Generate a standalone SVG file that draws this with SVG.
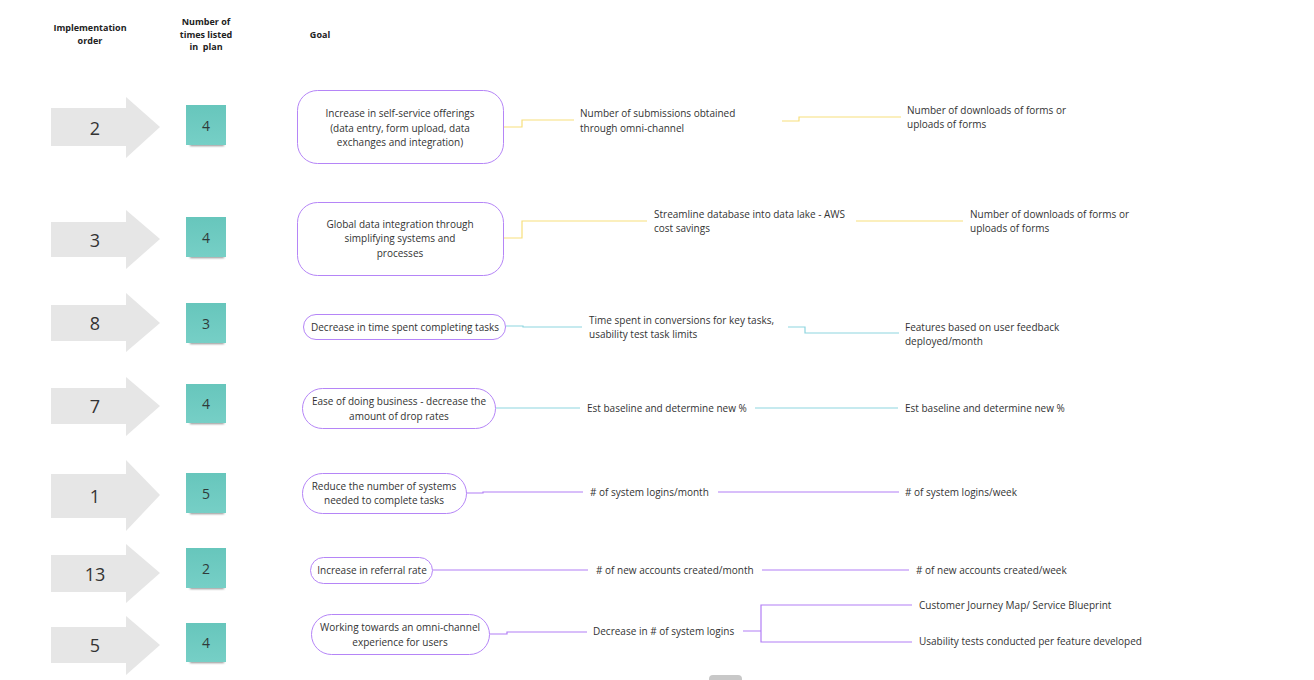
<svg xmlns="http://www.w3.org/2000/svg" width="1314" height="680" viewBox="0 0 1314 680">
<style>
text{font-family:"Open Sans","Noto Sans","Liberation Sans",sans-serif;fill:#333;}
.hd{font-size:9px;font-weight:bold;text-anchor:middle;fill:#222;}
.num{font-size:18px;text-anchor:middle;dominant-baseline:central;}
.sn{font-size:14px;text-anchor:middle;dominant-baseline:central;fill:#2f3b3a;}
.t{font-size:10px;dominant-baseline:central;}
.c{text-anchor:middle;}
.arrow{fill:#e6e6e6;}
.sticky{fill:url(#sg);}
.box{fill:#fff;stroke:#b585f7;stroke-width:1;}
.y{fill:none;stroke:#f7df7c;stroke-width:1.2;}
.b{fill:none;stroke:#8dd5df;stroke-width:1.2;}
.p{fill:none;stroke:#b27ef6;stroke-width:1.2;}
</style>
<defs>
<linearGradient id="sg" x1="0" y1="0" x2="0" y2="1">
<stop offset="0" stop-color="#67c6bc"/>
<stop offset="1" stop-color="#76cfc6"/>
</linearGradient>
<filter id="sh" x="-20%" y="-50%" width="140%" height="200%">
<feGaussianBlur stdDeviation="1.2"/>
</filter>
</defs>
<rect width="1314" height="680" fill="#fff"/>

<g id="headers">
<text class="hd" x="90" y="31">Implementation</text>
<text class="hd" x="90" y="44">order</text>
<text class="hd" x="206" y="25">Number of</text>
<text class="hd" x="206" y="38">times listed</text>
<text class="hd" x="206" y="50" xml:space="preserve" style="white-space:pre">in  plan</text>
<text class="hd" x="320" y="38">Goal</text>
</g>

<g id="order-arrows">
<g id="arrow-2"><path class="arrow" d="M51,108H126V97L160,127L126,158V146H51Z"/><text class="num" x="95" y="128">2</text></g>
<g id="arrow-3"><path class="arrow" d="M51,222H126V210L160,239L126,269V257H51Z"/><text class="num" x="95" y="240">3</text></g>
<g id="arrow-8"><path class="arrow" d="M51,305H126V293L160,323L126,352V341H51Z"/><text class="num" x="95" y="323">8</text></g>
<g id="arrow-7"><path class="arrow" d="M51,388H126V377L160,406L126,436V424H51Z"/><text class="num" x="95" y="406">7</text></g>
<g id="arrow-1"><path class="arrow" d="M51,474H126V460L160,495L126,531V518H51Z"/><text class="num" x="95" y="496">1</text></g>
<g id="arrow-13"><path class="arrow" d="M51,555H126V544L160,573L126,603V592H51Z"/><text class="num" x="95" y="574">13</text></g>
<g id="arrow-5"><path class="arrow" d="M51,627H126V616L160,645L126,675V663H51Z"/><text class="num" x="95" y="645">5</text></g>
</g>

<g id="stickies">
<g id="sticky-1"><rect x="190" y="143" width="34" height="3" fill="#444" opacity="0.6" filter="url(#sh)"/><rect class="sticky" x="186" y="105" width="40" height="40"/><text class="sn" x="206" y="125">4</text></g>
<g id="sticky-2"><rect x="190" y="255" width="34" height="3" fill="#444" opacity="0.6" filter="url(#sh)"/><rect class="sticky" x="186" y="217" width="40" height="40"/><text class="sn" x="206" y="237">4</text></g>
<g id="sticky-3"><rect x="190" y="341" width="34" height="3" fill="#444" opacity="0.6" filter="url(#sh)"/><rect class="sticky" x="186" y="303" width="40" height="40"/><text class="sn" x="206" y="323">3</text></g>
<g id="sticky-4"><rect x="190" y="421" width="34" height="3" fill="#444" opacity="0.6" filter="url(#sh)"/><rect class="sticky" x="186" y="384" width="40" height="39"/><text class="sn" x="206" y="403">4</text></g>
<g id="sticky-5"><rect x="190" y="511" width="34" height="3" fill="#444" opacity="0.6" filter="url(#sh)"/><rect class="sticky" x="186" y="473" width="40" height="40"/><text class="sn" x="206" y="493">5</text></g>
<g id="sticky-6"><rect x="190" y="586" width="34" height="3" fill="#444" opacity="0.6" filter="url(#sh)"/><rect class="sticky" x="186" y="548" width="40" height="40"/><text class="sn" x="206" y="568">2</text></g>
<g id="sticky-7"><rect x="190" y="660" width="34" height="3" fill="#444" opacity="0.6" filter="url(#sh)"/><rect class="sticky" x="186" y="623" width="40" height="39"/><text class="sn" x="206" y="642">4</text></g>
</g>

<g id="connectors">
<path class="y" d="M504,127H522V120H574"/>
<path class="y" d="M782,121H799V117H901"/>
<path class="y" d="M503,238H522V221H647"/>
<path class="y" d="M856,221H963"/>
<path class="b" d="M506,326H523V327H582"/>
<path class="b" d="M788,327H805V333H899"/>
<path class="b" d="M496,408H580"/>
<path class="b" d="M755,408H898"/>
<path class="p" d="M466,493H483V492H583"/>
<path class="p" d="M718,492H899"/>
<path class="p" d="M433,570H588"/>
<path class="p" d="M762,570H909"/>
<path class="p" d="M490,634H507V632H587"/>
<path class="p" d="M743,631H761M912,605H761V642H912"/>
</g>

<g id="goal-1"><rect class="box" x="297.5" y="90.5" width="206" height="73" rx="20"/>
<text class="t c" x="400" y="113">Increase in self-service offerings</text>
<text class="t c" x="400" y="128">(data entry, form upload, data</text>
<text class="t c" x="400" y="142">exchanges and integration)</text></g>
<g id="goal-2"><rect class="box" x="297.5" y="202.5" width="206" height="73" rx="20"/>
<text class="t c" x="400" y="224">Global data integration through</text>
<text class="t c" x="400" y="238">simplifying systems and</text>
<text class="t c" x="400" y="253">processes</text></g>
<g id="goal-3"><rect class="box" x="303.5" y="314.5" width="202" height="25" rx="12.5"/>
<text class="t c" x="405" y="327">Decrease in time spent completing tasks</text></g>
<g id="goal-4"><rect class="box" x="302.5" y="388.5" width="193" height="40" rx="20"/>
<text class="t c" x="399" y="401">Ease of doing business - decrease the</text>
<text class="t c" x="399" y="416">amount of drop rates</text></g>
<g id="goal-5"><rect class="box" x="302.5" y="473.5" width="164" height="40" rx="20"/>
<text class="t c" x="384" y="486">Reduce the number of systems</text>
<text class="t c" x="384" y="500">needed to complete tasks</text></g>
<g id="goal-6"><rect class="box" x="310.5" y="557.5" width="122" height="26" rx="13"/>
<text class="t c" x="372" y="570">Increase in referral rate</text></g>
<g id="goal-7"><rect class="box" x="311.5" y="614.5" width="178" height="40" rx="20"/>
<text class="t c" x="400" y="627">Working towards an omni-channel</text>
<text class="t c" x="400" y="642">experience for users</text></g>

<g id="metrics">
<g id="m1a"><text class="t" x="580" y="113">Number of submissions obtained</text><text class="t" x="580" y="128">through omni-channel</text></g>
<g id="m1b"><text class="t" x="907" y="110">Number of downloads of forms or</text><text class="t" x="907" y="124">uploads of forms</text></g>
<g id="m2a"><text class="t" x="654" y="214">Streamline database into data lake - AWS</text><text class="t" x="654" y="228">cost savings</text></g>
<g id="m2b"><text class="t" x="970" y="214">Number of downloads of forms or</text><text class="t" x="970" y="228">uploads of forms</text></g>
<g id="m3a"><text class="t" x="589" y="320">Time spent in conversions for key tasks,</text><text class="t" x="589" y="334">usability test task limits</text></g>
<g id="m3b"><text class="t" x="905" y="327">Features based on user feedback</text><text class="t" x="905" y="341">deployed/month</text></g>
<g id="m4a"><text class="t" x="587" y="408">Est baseline and determine new %</text></g>
<g id="m4b"><text class="t" x="905" y="408">Est baseline and determine new %</text></g>
<g id="m5a"><text class="t" x="590" y="492"># of system logins/month</text></g>
<g id="m5b"><text class="t" x="905" y="492"># of system logins/week</text></g>
<g id="m6a"><text class="t" x="596" y="570"># of new accounts created/month</text></g>
<g id="m6b"><text class="t" x="916" y="570"># of new accounts created/week</text></g>
<g id="m7a"><text class="t" x="593" y="631">Decrease in # of system logins</text></g>
<g id="m7b"><text class="t" x="919" y="605">Customer Journey Map/ Service Blueprint</text></g>
<g id="m7c"><text class="t" x="919" y="641">Usability tests conducted per feature developed</text></g>
</g>

<rect x="709" y="675" width="33" height="8" rx="4" fill="#c8c8c8"/>
</svg>
